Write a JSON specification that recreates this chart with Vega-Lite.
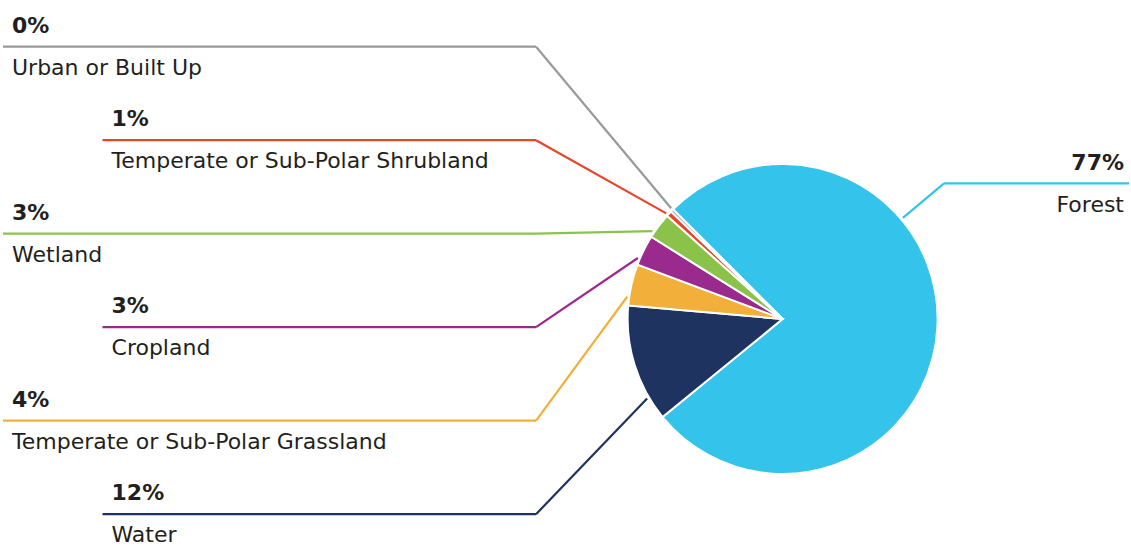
{
  "$schema": "https://vega.github.io/schema/vega-lite/v6.json",
  "width": 1131,
  "height": 548,
  "autosize": {"type": "fit", "contains": "padding"},
  "padding": 0,
  "background": "white",
  "config": {"view": {"stroke": null}, "text": {"font": "DejaVu Sans", "fontSize": 22, "color": "#231f20"}},
  "data": {
    "values": [
      {"category": "Forest", "value": 0.766},
      {"category": "Water", "value": 0.123},
      {"category": "Temperate or Sub-Polar Grassland", "value": 0.043},
      {"category": "Cropland", "value": 0.032},
      {"category": "Wetland", "value": 0.027},
      {"category": "Temperate or Sub-Polar Shrubland", "value": 0.006},
      {"category": "Urban or Built Up", "value": 0.003}
    ]
  },
  "transform": [
    {"joinaggregate": [{"op": "sum", "field": "value", "as": "total"}]},
    {"window": [{"op": "sum", "field": "value", "as": "cum"}], "sort": [{"field": "value", "order": "descending"}], "frame": [null, 0]},
    {"calculate": "-PI/4 + 2*PI*(datum.cum - datum.value)/datum.total", "as": "a0"},
    {"calculate": "-PI/4 + 2*PI*datum.cum/datum.total", "as": "a1"},
    {"calculate": "(datum.a0 + datum.a1)/2", "as": "mid"},
    {"calculate": "sin(datum.mid) > 0 ? 'right' : 'left'", "as": "side"},
    {"window": [{"op": "row_number", "as": "rn"}], "sort": [{"field": "value", "order": "ascending"}]},
    {"calculate": "datum.side == 'right' ? 1.0432 : -1.5935", "as": "ex"},
    {"calculate": "datum.side == 'right' ? 0.8755 : 1.7568 - 0.6032*(datum.rn - 1)", "as": "ey"},
    {"calculate": "atan2(datum.ex, datum.ey) < 0 ? atan2(datum.ex, datum.ey) + 2*PI : atan2(datum.ex, datum.ey)", "as": "eang"},
    {"calculate": "clamp(datum.eang, datum.a0 + 0.2*(datum.a1 - datum.a0), datum.a1 - 0.2*(datum.a1 - datum.a0))", "as": "la"},
    {"calculate": "1.015*sin(datum.la)", "as": "sx"},
    {"calculate": "1.015*cos(datum.la)", "as": "sy"},
    {"calculate": "datum.side == 'right' ? 2.2387 : (datum.rn % 2 == 1 ? -5.0387 : -4.3955)", "as": "lx"}
  ],
  "layer": [
    {
      "mark": {"type": "arc", "radius": 155, "stroke": "white", "strokeWidth": 2},
      "encoding": {
        "x": {"datum": 0, "type": "quantitative", "scale": {"domain": [-5.0581, 2.2387], "nice": false, "zero": false}, "axis": null},
        "y": {"datum": 0, "type": "quantitative", "scale": {"domain": [-1.4774, 2.0581], "nice": false, "zero": false}, "axis": null},
        "theta": {"field": "a0", "type": "quantitative", "scale": null},
        "theta2": {"field": "a1"},
        "color": {
          "field": "category", "type": "nominal", "legend": null,
          "scale": {
            "domain": ["Forest", "Water", "Temperate or Sub-Polar Grassland", "Cropland", "Wetland", "Temperate or Sub-Polar Shrubland", "Urban or Built Up"],
            "range": ["#34c3ea", "#1f3361", "#f2b03a", "#9a2a8e", "#8bc34a", "#e4472b", "#999999"]
          }
        }
      }
    },
    {
      "mark": {"type": "rule", "strokeWidth": 2.2},
      "encoding": {
        "x": {"field": "sx", "type": "quantitative", "scale": {"domain": [-5.0581, 2.2387], "nice": false, "zero": false}, "axis": null},
        "y": {"field": "sy", "type": "quantitative", "scale": {"domain": [-1.4774, 2.0581], "nice": false, "zero": false}, "axis": null},
        "x2": {"field": "ex"},
        "y2": {"field": "ey"},
        "color": {"field": "category", "type": "nominal", "legend": null}
      }
    },
    {
      "mark": {"type": "rule", "strokeWidth": 2.2},
      "encoding": {
        "x": {"field": "ex", "type": "quantitative", "scale": {"domain": [-5.0581, 2.2387], "nice": false, "zero": false}, "axis": null},
        "y": {"field": "ey", "type": "quantitative", "scale": {"domain": [-1.4774, 2.0581], "nice": false, "zero": false}, "axis": null},
        "x2": {"field": "lx"},
        "color": {"field": "category", "type": "nominal", "legend": null}
      }
    },
    {
      "transform": [{"filter": "datum.side == 'left'"}],
      "mark": {"type": "text", "align": "left", "baseline": "alphabetic", "dx": 9, "dy": -14, "fontWeight": "bold"},
      "encoding": {
        "x": {"field": "lx", "type": "quantitative", "scale": {"domain": [-5.0581, 2.2387], "nice": false, "zero": false}, "axis": null},
        "y": {"field": "ey", "type": "quantitative", "scale": {"domain": [-1.4774, 2.0581], "nice": false, "zero": false}, "axis": null},
        "text": {"field": "value", "type": "quantitative", "format": ".0%"}
      }
    },
    {
      "transform": [{"filter": "datum.side == 'left'"}],
      "mark": {"type": "text", "align": "left", "baseline": "alphabetic", "dx": 9, "dy": 28},
      "encoding": {
        "x": {"field": "lx", "type": "quantitative", "scale": {"domain": [-5.0581, 2.2387], "nice": false, "zero": false}, "axis": null},
        "y": {"field": "ey", "type": "quantitative", "scale": {"domain": [-1.4774, 2.0581], "nice": false, "zero": false}, "axis": null},
        "text": {"field": "category", "type": "nominal"}
      }
    },
    {
      "transform": [{"filter": "datum.side == 'right'"}],
      "mark": {"type": "text", "align": "right", "baseline": "alphabetic", "dx": -5, "dy": -13, "fontWeight": "bold"},
      "encoding": {
        "x": {"field": "lx", "type": "quantitative", "scale": {"domain": [-5.0581, 2.2387], "nice": false, "zero": false}, "axis": null},
        "y": {"field": "ey", "type": "quantitative", "scale": {"domain": [-1.4774, 2.0581], "nice": false, "zero": false}, "axis": null},
        "text": {"field": "value", "type": "quantitative", "format": ".0%"}
      }
    },
    {
      "transform": [{"filter": "datum.side == 'right'"}],
      "mark": {"type": "text", "align": "right", "baseline": "alphabetic", "dx": -5, "dy": 29},
      "encoding": {
        "x": {"field": "lx", "type": "quantitative", "scale": {"domain": [-5.0581, 2.2387], "nice": false, "zero": false}, "axis": null},
        "y": {"field": "ey", "type": "quantitative", "scale": {"domain": [-1.4774, 2.0581], "nice": false, "zero": false}, "axis": null},
        "text": {"field": "category", "type": "nominal"}
      }
    }
  ]
}
